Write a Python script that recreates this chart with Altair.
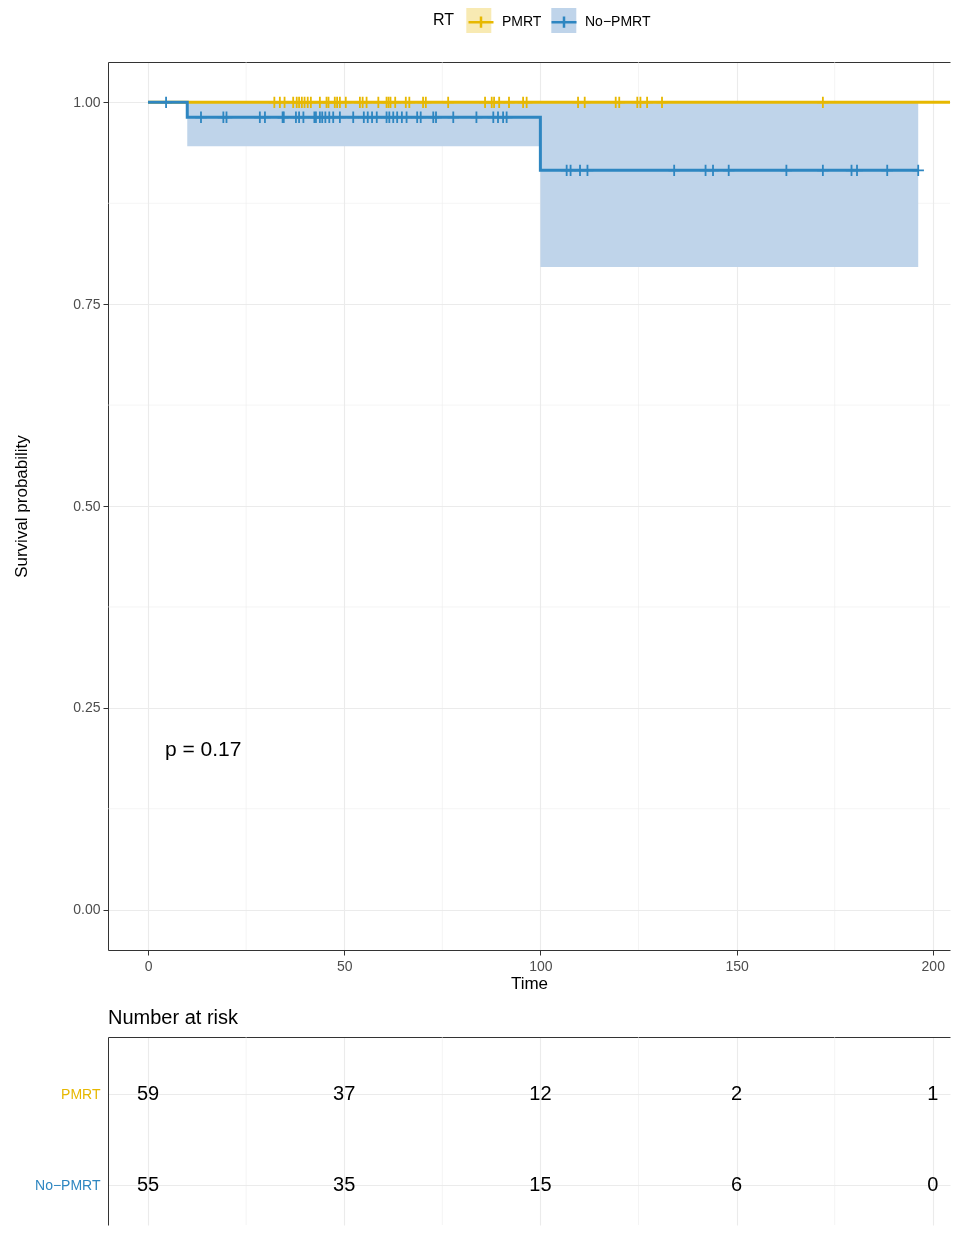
import altair as alt
import pandas as pd

# ---------------- data ----------------
groups = ["PMRT", "No−PMRT"]
line_colors = ["#E7B800", "#2E86C1"]
band_colors = ["#F8EAB3", "#BFD4EA"]

# Kaplan-Meier steps (time, survival) and confidence band
pmrt_step_time = [0, 209]
pmrt_step_surv = [1.0, 1.0]
pmrt_band_lower = [1.0, 1.0]
pmrt_band_upper = [1.0, 1.0]

nopmrt_step_time = [0, 10, 100, 196.3]
nopmrt_step_surv = [1.0, 0.9815, 0.9158, 0.9158]
nopmrt_band_lower = [1.0, 0.9456, 0.796, 0.796]
nopmrt_band_upper = [1.0, 1.0, 1.0, 1.0]

# censoring times
pmrt_censor_time = [32.2, 33.6, 34.8, 37.0, 37.9, 38.5, 39.2, 39.9, 40.7, 41.5,
                    43.8, 45.5, 46.0, 47.6, 48.2, 48.9, 50.4, 54.0, 54.7, 55.7,
                    58.7, 60.8, 61.3, 61.8, 63.0, 65.7, 66.6, 70.1, 70.8, 76.5,
                    85.9, 87.6, 88.2, 89.5, 92.0, 95.6, 96.5, 109.6, 111.3, 119.2,
                    120.1, 124.7, 125.5, 127.2, 131.0, 172.0, 209]
nopmrt_censor_time = [4.6, 13.5, 19.2, 20.0, 28.5, 29.8, 34.3, 34.6, 37.7, 38.5,
                      39.6, 42.4, 42.8, 43.8, 44.4, 45.2, 46.2, 47.2, 48.9, 52.3,
                      55.0, 56.0, 57.1, 58.3, 60.8, 61.5, 62.5, 63.5, 64.7, 65.9,
                      68.6, 69.5, 72.7, 73.4, 77.8, 83.7, 88.0, 89.2, 90.5, 91.4,
                      106.7, 107.7, 110.1, 112.0, 134.1, 142.1, 144.0, 148.0, 162.7,
                      172.0, 179.3, 180.7, 188.4, 196.3]

# number at risk
risk_times = [0, 50, 100, 150, 200]
pmrt_risk = [59, 37, 12, 2, 1]
nopmrt_risk = [55, 35, 15, 6, 0]

p_text = "p = 0.17"
p_pos = (4.3, 0.198)

x_major = [0, 50, 100, 150, 200]
x_minor = [25, 75, 125, 175]
y_major = [0, 0.25, 0.5, 0.75, 1.0]
y_minor = [0.125, 0.375, 0.625, 0.875]

# ---------------- tables ----------------
def step_value(times, survs, t):
    v = survs[0]
    for ti, si in zip(times, survs):
        if ti <= t:
            v = si
    return v

steps = pd.concat([
    pd.DataFrame({"time": pmrt_step_time, "surv": pmrt_step_surv,
                  "lower": pmrt_band_lower, "upper": pmrt_band_upper, "RT": groups[0]}),
    pd.DataFrame({"time": nopmrt_step_time, "surv": nopmrt_step_surv,
                  "lower": nopmrt_band_lower, "upper": nopmrt_band_upper, "RT": groups[1]}),
])
steps["RT_band"] = steps["RT"]

censor = pd.concat([
    pd.DataFrame({"time": pmrt_censor_time,
                  "surv": [step_value(pmrt_step_time, pmrt_step_surv, t) for t in pmrt_censor_time],
                  "RT": groups[0]}),
    pd.DataFrame({"time": nopmrt_censor_time,
                  "surv": [step_value(nopmrt_step_time, nopmrt_step_surv, t) for t in nopmrt_censor_time],
                  "RT": groups[1]}),
])

row_of = {g: len(groups) - i for i, g in enumerate(groups)}
risk = pd.concat([
    pd.DataFrame({"time": risk_times, "n": pmrt_risk, "RT": groups[0]}),
    pd.DataFrame({"time": risk_times, "n": nopmrt_risk, "RT": groups[1]}),
])
risk["row"] = risk["RT"].map(row_of)

minor_x_df = pd.DataFrame({"time": x_minor})
minor_y_df = pd.DataFrame({"surv": y_minor})
p_df = pd.DataFrame({"time": [p_pos[0]], "surv": [p_pos[1]], "label": [p_text]})

# ---------------- scales / axes ----------------
FONT = "Liberation Sans"
GRID = "#EBEBEB"
BORDER = "#333333"
W = 842
H = 888

x_scale = alt.Scale(domain=[-10.2, 204.4], nice=False, zero=False)
y_scale = alt.Scale(domain=[-0.05, 1.05], nice=False, zero=False)

x_axis = alt.Axis(values=x_major, grid=True, gridColor=GRID, gridWidth=1.1,
                  tickColor=BORDER, tickSize=5, tickWidth=1,
                  labelFontSize=14, labelColor="#4D4D4D", labelPadding=4,
                  labelFlush=False, format="d",
                  title="Time", titleFontSize=17, titleFontWeight="normal",
                  titleColor="black", titlePadding=2,
                  domain=True, domainColor=BORDER, domainWidth=1)
x_top_axis = alt.Axis(orient="top", grid=False, labels=False, ticks=False, title=None,
                      domain=True, domainColor=BORDER, domainWidth=1)
y_axis = alt.Axis(values=y_major, grid=True, gridColor=GRID, gridWidth=1.1,
                  tickColor=BORDER, tickSize=5, tickWidth=1,
                  labelFontSize=14, labelColor="#4D4D4D", labelPadding=3,
                  labelFlush=False, format=".2f",
                  title="Survival probability", titleFontSize=17,
                  titleFontWeight="normal", titleColor="black", titlePadding=42,
                  domain=True, domainColor=BORDER, domainWidth=1)

def X(axis=None):
    return alt.X("time:Q", scale=x_scale, axis=axis)

def Y(field="surv"):
    return alt.Y(f"{field}:Q", scale=y_scale, axis=y_axis)

LEG_X, LEG_Y = 325, -54
KEY_SHIFT = 33.3   # width of the "RT" title plus its padding
stroke_legend = alt.Legend(title="RT", orient="none", legendX=LEG_X, legendY=LEG_Y,
                           direction="horizontal", titleOrient="left",
                           titleFontSize=16, titleFontWeight="normal",
                           titleColor="black", titlePadding=12,
                           labelFontSize=14, labelColor="black", labelOffset=7,
                           columnPadding=4,
                           symbolType="M-1,0H1M0,-0.45V0.45", symbolSize=625,
                           symbolStrokeWidth=2.5, symbolFillColor="transparent",
                           zindex=2)
fill_legend = alt.Legend(title=None, orient="none", legendX=LEG_X + KEY_SHIFT, legendY=LEG_Y,
                         direction="horizontal", labelExpr="''", labelOffset=0,
                         labelFontSize=14, columnPadding=60,
                         symbolType="square", symbolSize=625,
                         symbolStrokeWidth=0, zindex=1)

stroke_enc = alt.Stroke("RT:N", scale=alt.Scale(domain=groups, range=line_colors),
                        legend=stroke_legend)

# ---------------- KM plot ----------------
minor_v = alt.Chart(minor_x_df).mark_rule(color=GRID, strokeWidth=0.55).encode(
    x=X(x_top_axis))
minor_h = alt.Chart(minor_y_df).mark_rule(color=GRID, strokeWidth=0.55).encode(y=Y())

band = alt.Chart(steps).mark_area(interpolate="step-after", blend="multiply", clip=True).encode(
    x=X(x_axis), y=Y("lower"), y2="upper:Q",
    fill=alt.Fill("RT_band:N", sort=groups, scale=alt.Scale(range=band_colors),
                  legend=fill_legend),
)
lines = alt.Chart(steps).mark_line(interpolate="step-after", strokeWidth=3, clip=True).encode(
    x=X(), y=Y(), stroke=stroke_enc, detail="RT:N")
marks = alt.Chart(censor).mark_point(shape="M-1,0H1M0,-1V1", filled=False, size=130,
                                     strokeWidth=1.8, opacity=1, clip=True).encode(
    x=X(), y=Y(), stroke=stroke_enc)
ptext = alt.Chart(p_df).mark_text(align="left", baseline="middle", fontSize=21,
                                  color="black", font=FONT).encode(
    x=X(), y=Y(), text="label:N")

km = alt.layer(minor_v, minor_h, band, lines, marks, ptext).resolve_axis(
    x="independent").properties(width=W, height=H)

# ---------------- risk table ----------------
rx_axis = alt.Axis(values=x_major, orient="top", grid=True, gridColor=GRID, gridWidth=1.1,
                   labels=False, ticks=False, title=None,
                   domain=True, domainColor=BORDER, domainWidth=1)
ry_axis = alt.Axis(values=sorted(row_of.values()), grid=True, gridColor=GRID, gridWidth=1.1,
                   ticks=False, domain=True, domainColor=BORDER, domainWidth=1,
                   labelFontSize=14, labelPadding=8, title=None,
                   labelExpr="datum.value == %d ? '%s' : '%s'" % (row_of[groups[0]], groups[0], groups[1]),
                   labelColor={"condition": {"test": f"datum.value == {row_of[groups[0]]}",
                                             "value": line_colors[0]},
                               "value": line_colors[1]})
rX = alt.X("time:Q", scale=x_scale, axis=rx_axis)
rY = alt.Y("row:Q", scale=alt.Scale(domain=[0.565, 2.625], nice=False, zero=False),
           axis=ry_axis)

r_minor = alt.Chart(minor_x_df).mark_rule(color=GRID, strokeWidth=0.55).encode(x=rX)
r_text = alt.Chart(risk).mark_text(fontSize=20, color="black", font=FONT).encode(
    x=rX, y=rY, text="n:Q")
risk_chart = alt.layer(r_minor, r_text).properties(
    width=W, height=188,
    title=alt.Title("Number at risk", anchor="start", frame="group", fontSize=20,
                    fontWeight="normal", color="black", offset=8.5, font=FONT),
)

chart = alt.vconcat(km, risk_chart, spacing=17).resolve_legend(
    fill="independent", stroke="independent"
).properties(
    padding={"left": 4, "top": 0, "right": 0, "bottom": 0}
).configure(font=FONT).configure_view(stroke=None)

chart.save("out.html", embed_options={"renderer": "svg", "actions": False})
